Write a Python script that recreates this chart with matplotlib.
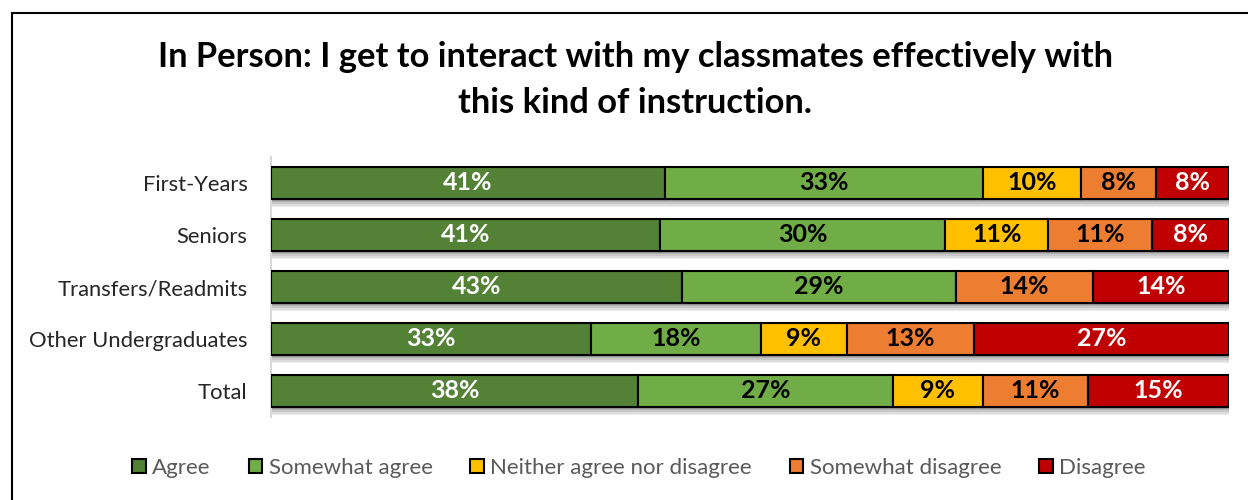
import matplotlib
matplotlib.use("Agg")
import matplotlib.pyplot as plt
from matplotlib.patches import Rectangle
import numpy as np

plt.rcParams['font.family'] = ['Lato', 'DejaVu Sans']

categories = ["First-Years", "Seniors", "Transfers/Readmits", "Other Undergraduates", "Total"]
series_names = ["Agree", "Somewhat agree", "Neither agree nor disagree", "Somewhat disagree", "Disagree"]
agree = [41.1, 40.6, 42.9, 33.4, 38.3]
somewhat_agree = [33.2, 29.8, 28.6, 17.7, 26.6]
neither = [10.3, 10.7, 0.0, 9.0, 9.4]
somewhat_disagree = [7.8, 10.9, 14.3, 13.3, 11.0]
disagree = [7.6, 8.0, 14.2, 26.6, 14.7]

colors = ["#538135", "#70AD47", "#FFC000", "#ED7D31", "#C00000"]
label_colors = ["white", "black", "black", "black", "white"]

series = [agree, somewhat_agree, neither, somewhat_disagree, disagree]

fig = plt.figure(figsize=(12.48, 5.0), dpi=100)
# chart border
fig.patches.append(Rectangle((12/1248, -0.1), 1.2, 1 - 13/500 + 0.1, transform=fig.transFigure,
                             fill=False, edgecolor="black", linewidth=1.5, zorder=0))

ax = fig.add_axes([271/1248, 1 - 417/500, (1229 - 271)/1248, 260/500])
y = np.arange(len(categories))
h = 0.62
px = 1/52.0

# shadows
totals = np.sum(series, axis=0)
shades = ["#9a9a9a", "#b0b0b0", "#c8c8c8", "#dcdcdc", "#ececec"]
for i, col in enumerate(shades):
    ax.barh(y + h/2 + (i*1.6 + 0.8)*px, totals + 0.4, height=1.6*px, left=0,
            color=col, edgecolor="none", zorder=1)

left = np.zeros(len(categories))
for vals, name, c, lc in zip(series, series_names, colors, label_colors):
    vals = np.array(vals)
    bars = ax.barh(y, vals, left=left, height=h, color=c, edgecolor="black",
                   linewidth=1.5, label=name, zorder=3)
    for yi, (l, v) in enumerate(zip(left, vals)):
        if v > 0:
            ax.text(l + v/2, yi, f"{v:.0f}%", ha="center", va="center",
                    color=lc, fontsize=18, fontweight="bold", zorder=4)
    left += vals

ax.set_xlim(0, 100)
ax.set_ylim(4.5, -0.5)
ax.set_yticks(y)
ax.set_yticklabels(categories, fontsize=15.8, color="#262626")
ax.set_xticks([])
for s in ["top", "right", "bottom"]:
    ax.spines[s].set_visible(False)
ax.spines["left"].set_color("#d9d9d9")
ax.spines["left"].set_linewidth(1.5)
ax.tick_params(axis="y", length=0, pad=17)

fig.text(635/1248, 1 - 57/500, "In Person: I get to interact with my classmates effectively with",
         ha="center", va="center", fontsize=24.8, fontweight="bold", color="black")
fig.text(635/1248, 1 - 103/500, "this kind of instruction.",
         ha="center", va="center", fontsize=24.8, fontweight="bold", color="black")

handles, labels = ax.get_legend_handles_labels()
leg = fig.legend(handles, labels, loc="center", bbox_to_anchor=(639/1248, 1 - 468/500),
                 ncol=5, frameon=False, fontsize=16, handlelength=0.6, handleheight=0.6,
                 handletextpad=0.3, columnspacing=1.7, labelcolor="#595959")

fig.savefig("out.png", dpi=100)
